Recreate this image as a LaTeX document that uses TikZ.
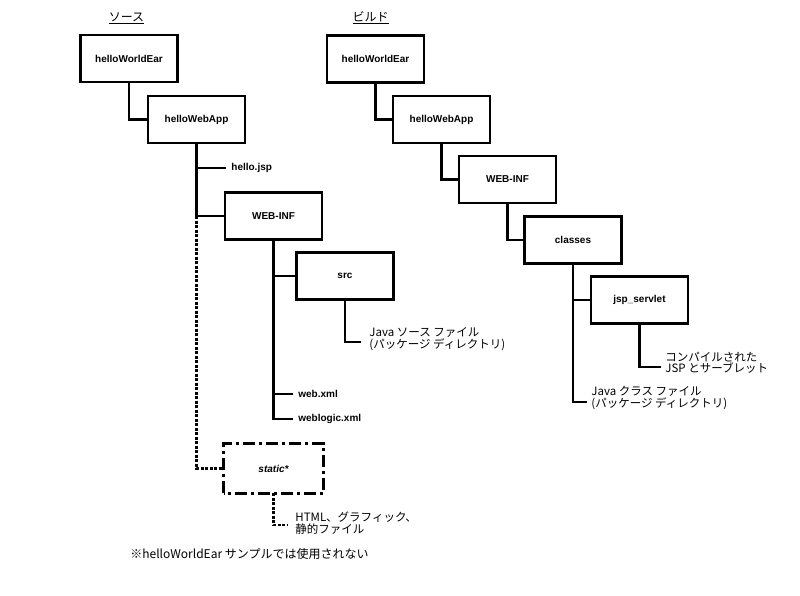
\documentclass[tikz,border=0pt]{standalone}
\usepackage{fontspec}
\setmainfont{Liberation Sans}
\newfontfamily\jpfont{Noto Sans CJK JP}
\usepackage{tikz}

\begin{document}
\begin{tikzpicture}[
  x=1pt,y=-1pt,
  line width=2.8pt,
  dir/.style={draw,minimum width=97pt,minimum height=47pt,inner sep=0pt,
              font=\fontsize{10}{12}\selectfont\bfseries},
  file/.style={anchor=west,inner xsep=4pt,inner ysep=1pt,
               font=\fontsize{10}{12}\selectfont\bfseries},
  note/.style={anchor=west,align=left,inner xsep=3pt,inner ysep=0pt,
               font=\fontsize{11.5}{11.5}\selectfont\jpfont},
  ttl/.style={font=\fontsize{12}{14}\selectfont\jpfont,inner sep=0pt},
  dotline/.style={dash pattern=on 3pt off 1.5pt},
  dashdot/.style={dash pattern=on 12pt off 4pt on 3pt off 4pt}
]
\useasboundingbox (0,0) rectangle (800,596);
% ---- Source tree ----
\node[ttl] (srcttl) at (126.5,18) {\underline{ソース}};
\node[dir] (sEar)    at (129,58.5)   {helloWorldEar};
\node[dir] (sApp)    at (196.5,119.5) {helloWebApp};
\node[file] (hellojsp) at (226,168)  {hello.jsp};
\node[dir] (sWebinf) at (273.5,216)  {WEB-INF};
\node[dir] (src)     at (345,276)    {src};
\node[note,inner xsep=7pt] (srcnote) at (361,339)
  {Java ソース ファイル\\(パッケージ ディレクトリ)};
\node[file] (webxml)   at (293,394)  {web.xml};
\node[file] (weblogic) at (293,419)  {weblogic.xml};
\node[dir,draw=none,font=\fontsize{10}{12}\selectfont\bfseries\itshape]
  (static) at (273.5,468.5) {static*};
\node[note,inner xsep=6pt] (staticnote) at (288,523)
  {HTML、グラフィック、\\静的ファイル};
\node[note,anchor=west,inner sep=0pt,font=\fontsize{12}{14}\selectfont\jpfont]
  (footer) at (129,554) {※helloWorldEar サンプルでは使用されない};
% ---- Build tree ----
\node[ttl] (bldttl) at (370.5,18) {\underline{ビルド}};
\node[dir] (bEar)    at (375.5,59)    {helloWorldEar};
\node[dir] (bApp)    at (441.5,119.5) {helloWebApp};
\node[dir] (bWebinf) at (507.5,179.5) {WEB-INF};
\node[dir] (classes) at (573,240)     {classes};
\node[dir] (jspserv) at (639.5,300)   {jsp\_servlet};
\node[note] (jspnote) at (661,363) {コンパイルされた\\JSP とサーブレット};
\node[note] (classnote) at (587,398)
  {Java クラス ファイル\\(パッケージ ディレクトリ)};
% ---- Edges ----
\draw (sEar.south) |- (sApp.west);
\draw (sApp.south) |- (hellojsp.west);
\draw (sApp.south) |- (sWebinf.west);
\draw[dotline] (sApp.south|-sWebinf.west) |- (static.west);
\draw[dashdot] (static.south west) rectangle (static.north east);
\draw (sWebinf.south) |- (src.west);
\draw (sWebinf.south) |- (webxml.west);
\draw (sWebinf.south) |- (weblogic.west);
\draw (src.south) |- ([yshift=-3pt]srcnote.west);
\draw[dotline] (static.south) |- ([yshift=-2pt]staticnote.west);
\draw (bEar.south) |- (bApp.west);
\draw (bApp.south) |- (bWebinf.west);
\draw (bWebinf.south) |- (classes.west);
\draw (classes.south) |- (jspserv.west);
\draw (classes.south) |- ([yshift=-4pt]classnote.west);
\draw (jspserv.south) |- ([yshift=-4pt]jspnote.west);
\end{tikzpicture}
\end{document}
